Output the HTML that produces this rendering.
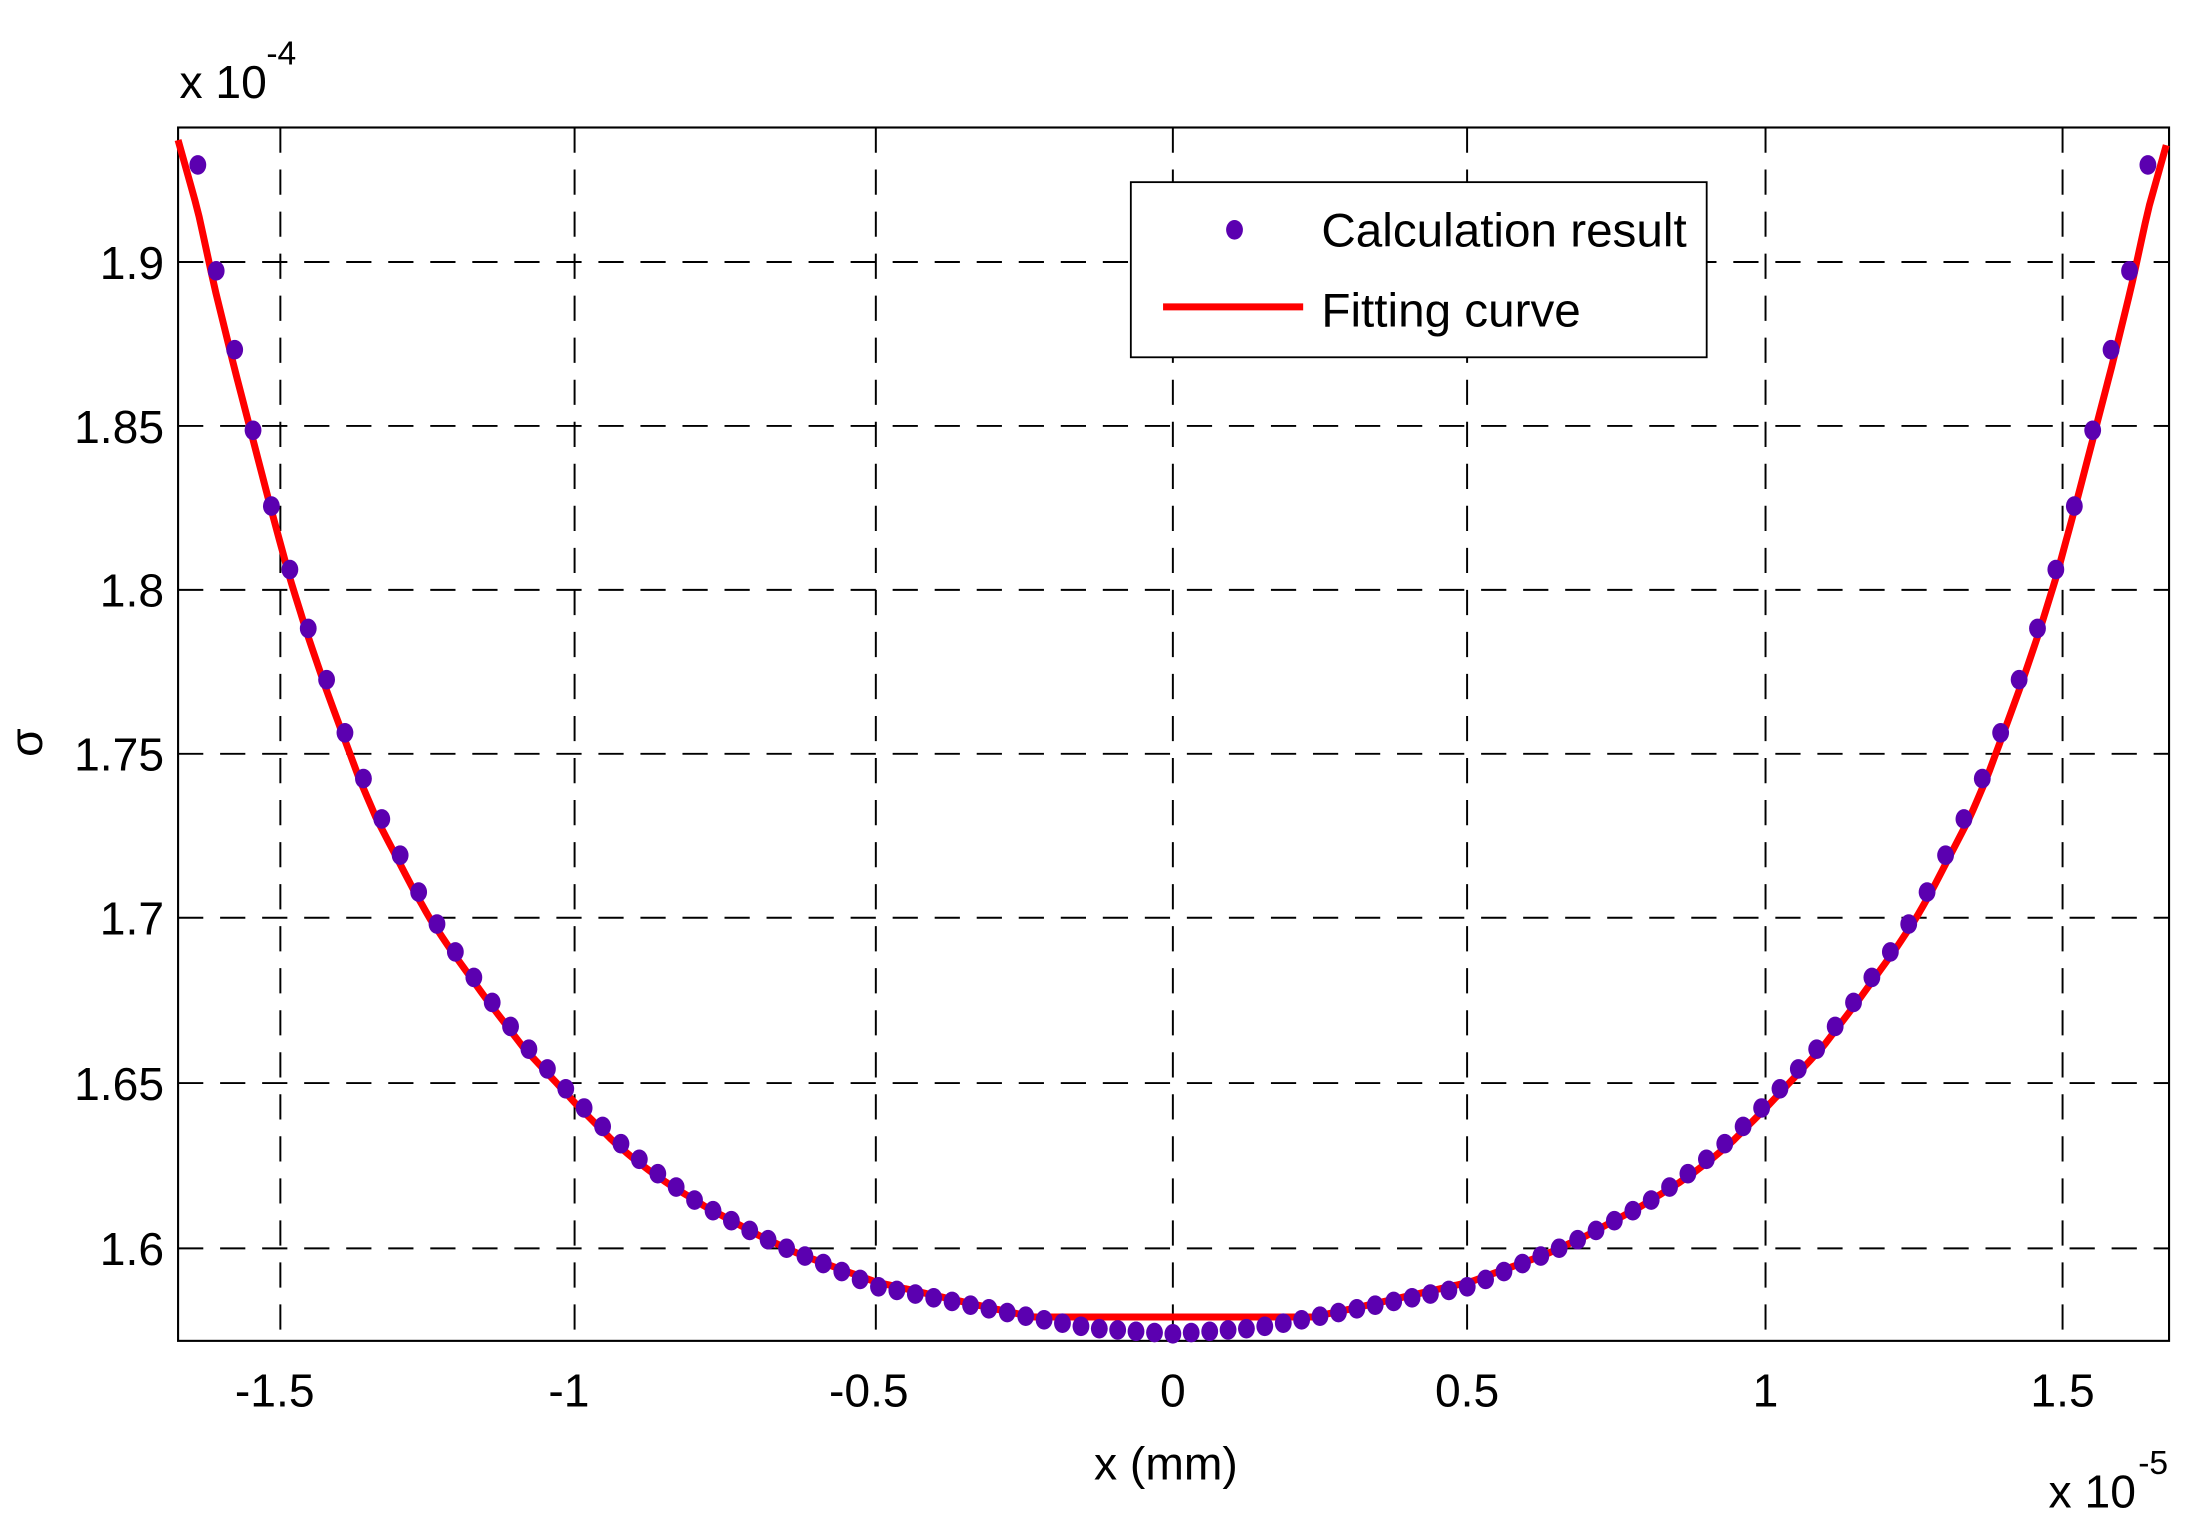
<!DOCTYPE html>
<html><head><meta charset="utf-8"><style>
html,body{margin:0;padding:0;background:#fff;}
svg{display:block;}
text{font-family:"Liberation Sans",Arial,sans-serif;fill:#000;}
</style></head><body>
<svg id="s" width="2186" height="1516" viewBox="0 0 1560 1082" xmlns="http://www.w3.org/2000/svg">
<rect x="0" y="0" width="1560" height="1082" fill="#fff"/>
<g id="grid" stroke="#000" stroke-width="1.4" stroke-dasharray="18,12" fill="none">
<line x1="200" y1="91" x2="200" y2="957"/>
<line x1="410" y1="91" x2="410" y2="957"/>
<line x1="625" y1="91" x2="625" y2="957"/>
<line x1="837" y1="91" x2="837" y2="957"/>
<line x1="1047" y1="91" x2="1047" y2="957"/>
<line x1="1260" y1="91" x2="1260" y2="957"/>
<line x1="1472" y1="91" x2="1472" y2="957"/>
<line x1="127" y1="187" x2="1548" y2="187"/>
<line x1="127" y1="304" x2="1548" y2="304"/>
<line x1="127" y1="421" x2="1548" y2="421"/>
<line x1="127" y1="538" x2="1548" y2="538"/>
<line x1="127" y1="655" x2="1548" y2="655"/>
<line x1="127" y1="773" x2="1548" y2="773"/>
<line x1="127" y1="891" x2="1548" y2="891"/>
</g>
<rect x="127" y="91" width="1421" height="866" fill="none" stroke="#000" stroke-width="1.5"/>
<g id="data"></g>
<g font-size="33" text-anchor="end">
<text x="117" y="199">1.9</text>
<text x="117" y="316">1.85</text>
<text x="117" y="433">1.8</text>
<text x="117" y="550">1.75</text>
<text x="117" y="667">1.7</text>
<text x="117" y="785">1.65</text>
<text x="117" y="903">1.6</text>
</g>
<g font-size="33" text-anchor="middle">
<text x="196" y="1004">-1.5</text>
<text x="406" y="1004">-1</text>
<text x="620" y="1004">-0.5</text>
<text x="837" y="1004">0</text>
<text x="1047" y="1004">0.5</text>
<text x="1260" y="1004">1</text>
<text x="1472" y="1004">1.5</text>
<text x="832" y="1056">x (mm)</text>
</g>
<text x="128" y="70" font-size="33">x 10</text>
<text x="190" y="46" font-size="24">-4</text>
<text x="1462" y="1076" font-size="33">x 10</text>
<text x="1526" y="1052" font-size="24">-5</text>
<text transform="translate(30,530) rotate(-90)" font-size="33" text-anchor="middle">σ</text>
<rect x="807" y="130" width="411" height="125" fill="#fff" stroke="#000" stroke-width="1.3"/>
<ellipse cx="881" cy="164" rx="6" ry="7" fill="#5b00b0"/>
<text x="943" y="176" font-size="34">Calculation result</text>
<line x1="830" y1="219" x2="930" y2="219" stroke="#f00" stroke-width="5"/>
<text x="943" y="233" font-size="34">Fitting curve</text>
</svg>
<script>
(function(){
var dt=[[0,952],[57,948],[87,943],[137,933],[212,918],[256,899],[269,894],[282,888],[295,882],[308,875],[321,868],[334,861],[347,853],[360,843],[373,834],[386,823],[399,812],[412,799],[425,786],[438,772],[451,758],[464,744],[477,727],[490,710],[503,692],[516,674],[530,652],[542,630],[555,603],[569,576],[581,548],[594,515],[605,482],[618,446],[631,404],[644,359],[657,305],[670,248],[684,188],[696,117],[720,40]];
var rt=[[0,940],[100,940],[137,932],[212,915],[256,899],[269,894],[282,888],[295,882],[308,875],[321,868],[334,861],[347,853],[360,845],[373,836],[386,826],[399,815],[412,802],[425,789],[438,775],[451,761],[464,747],[477,730],[490,713],[503,695],[516,677],[530,656],[542,635],[555,610],[569,583],[581,555],[594,520],[605,490],[618,452],[631,410],[644,362],[657,312],[670,262],[684,205],[696,150],[710,100],[720,60]];
function f(t,d){for(var i=1;i<t.length;i++){if(d<=t[i][0]){var a=t[i-1],b=t[i];return a[1]+(b[1]-a[1])*(d-a[0])/(b[0]-a[0]);}}return t[t.length-1][1];}
var g=document.getElementById('data'),ns='http://www.w3.org/2000/svg',h='';
var pts=[];for(var x=127;x<=1548;x+=3){pts.push(x+','+f(rt,Math.abs(x-837)).toFixed(1));}
h+='<polyline points="'+pts.join(' ')+'" fill="none" stroke="#f00" stroke-width="5" stroke-linejoin="round"/>';
for(var k=-53;k<=53;k++){var x=837+k*13.13;var y=f(dt,Math.abs(k*13.13));h+='<ellipse cx="'+x.toFixed(1)+'" cy="'+y.toFixed(1)+'" rx="6" ry="7" fill="#5b00b0"/>';}
g.innerHTML=h;
// redraw red on top partially like reference (red over dots in steep parts)
})();
</script>
</body></html>
